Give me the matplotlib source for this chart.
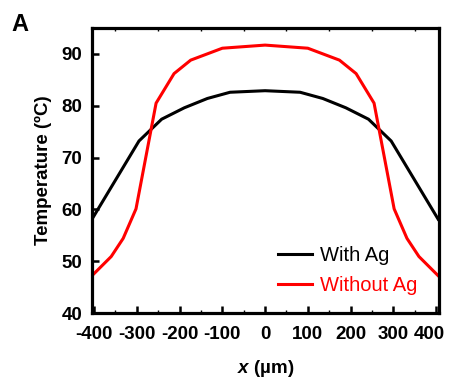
import matplotlib
matplotlib.use("Agg")
import matplotlib.pyplot as plt
import matplotlib.transforms as mtransforms
from matplotlib.ticker import MultipleLocator

plt.rcParams["font.family"] = ["Liberation Sans", "DejaVu Sans"]
plt.rcParams["axes.unicode_minus"] = False
plt.rcParams["mathtext.fontset"] = "custom"
plt.rcParams["mathtext.rm"] = "Liberation Sans"
plt.rcParams["mathtext.bf"] = "Liberation Sans:bold"
plt.rcParams["mathtext.bfit"] = "Liberation Sans:italic:bold"

# Temperature profiles
x_with = [-405, -295, -242, -189, -135, -82, 0, 82, 135, 189, 242, 295, 405]
t_with = [58.1, 73.2, 77.4, 79.6, 81.4, 82.6, 82.9, 82.6, 81.4, 79.6, 77.4, 73.2, 58.1]

x_without = [-405, -360, -332, -302, -255, -213, -174, -100, 0,
             100, 174, 213, 255, 302, 332, 360, 405]
t_without = [47.2, 50.9, 54.4, 60.1, 80.5, 86.2, 88.8, 91.1, 91.7,
             91.1, 88.8, 86.2, 80.5, 60.1, 54.4, 50.9, 47.2]

x_ticks = [-400, -300, -200, -100, 0, 100, 200, 300, 400]
y_ticks = [40, 50, 60, 70, 80, 90]

fig = plt.figure(figsize=(4.5, 3.82), dpi=100)
ax = fig.add_axes([0.2044, 0.1806, 0.7712, 0.7461])

ax.plot(x_with, t_with, color="black", lw=2.2, label="With Ag")
ax.plot(x_without, t_without, color="#ff0000", lw=2.2, label="Without Ag")

ax.set_xlim(-405, 407)
ax.set_ylim(40, 95)
ax.set_xticks(x_ticks)
ax.set_yticks(y_ticks)
ax.xaxis.set_minor_locator(MultipleLocator(50))

for s in ax.spines.values():
    s.set_linewidth(2.3)

ax.tick_params(axis="both", which="major", direction="in", length=5, width=1.8,
               labelsize=13.5, pad=7)
ax.tick_params(axis="x", which="minor", direction="in", length=2.5, width=1,
               top=True, bottom=True)
ax.tick_params(axis="x", which="major", pad=9)
for lab in ax.get_xticklabels() + ax.get_yticklabels():
    lab.set_fontweight("bold")

# last x label sits a little left of its tick, as in the original
last = ax.get_xticklabels()[-1]
last.set_transform(last.get_transform() +
                   mtransforms.ScaledTranslation(-5 / 72, 0, fig.dpi_scale_trans))

ax.set_ylabel("Temperature (ºC)", fontsize=13.5, fontweight="bold", labelpad=7)
ax.set_xlabel(r"$\mathbfit{x}$ (µm)", fontsize=13.5, fontweight="bold", labelpad=11)

leg = ax.legend(loc="lower right", bbox_to_anchor=(0.99, 0.0), frameon=False,
                fontsize=14.5, handlelength=1.7, handletextpad=0.4,
                labelspacing=0.55)
for txt, line in zip(leg.get_texts(), leg.get_lines()):
    txt.set_color(line.get_color())

fig.text(0.045, 0.935, "A", fontsize=17, fontweight="bold", ha="center", va="center")

fig.savefig("out.png", dpi=100)
